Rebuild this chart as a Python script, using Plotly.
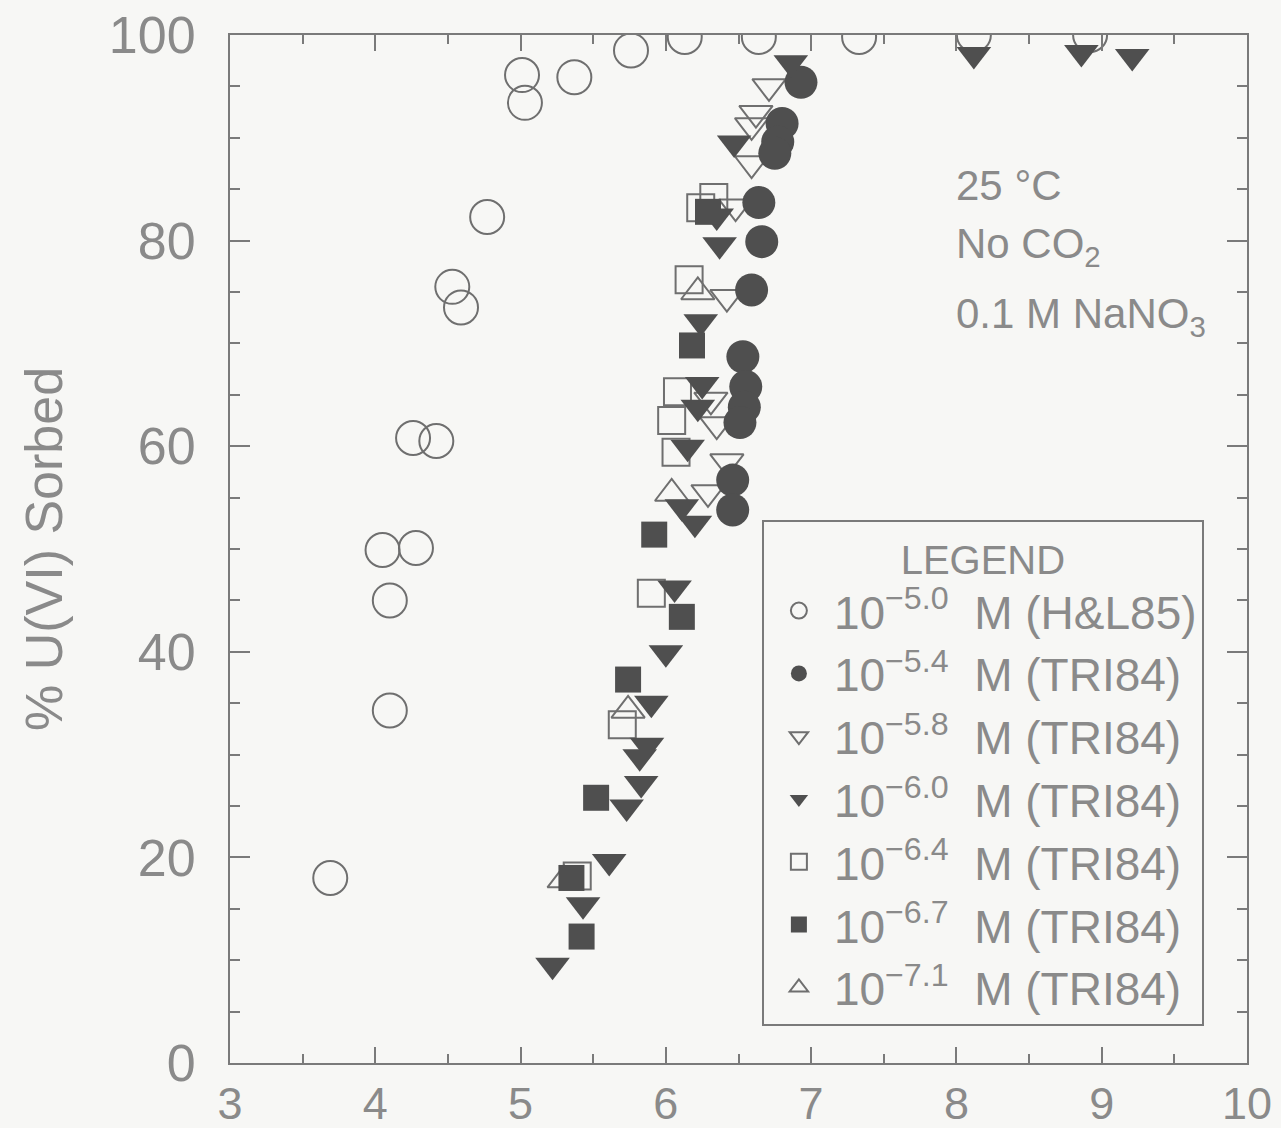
import plotly.graph_objects as go

# ---- data (pH, % U(VI) sorbed) ----
hl85_ph = [3.69, 4.10, 4.10, 4.05, 4.28, 4.26, 4.42, 4.53, 4.59, 4.77, 5.01, 5.03, 5.37, 5.76, 6.13, 6.64, 7.33, 8.12, 8.92]
hl85_y = [18.0, 34.3, 45.0, 49.9, 50.1, 60.8, 60.5, 75.5, 73.5, 82.3, 96.1, 93.4, 95.9, 98.5, 99.8, 99.8, 99.8, 100.0, 100.0]

m54_ph = [6.93, 6.80, 6.77, 6.75, 6.64, 6.66, 6.59, 6.53, 6.55, 6.54, 6.51, 6.46, 6.46]
m54_y = [95.4, 91.4, 89.6, 88.5, 83.7, 79.9, 75.2, 68.7, 65.8, 63.8, 62.3, 56.7, 53.8]

m58_ph = [6.71, 6.62, 6.59, 6.59, 6.48, 6.42, 6.31, 6.35, 6.42, 6.29]
m58_y = [95.0, 92.4, 91.2, 87.5, 83.3, 74.5, 64.5, 62.1, 58.5, 55.5]

m60_ph = [6.86, 8.12, 8.86, 9.21, 6.47, 6.35, 6.37, 6.24, 6.25, 6.22, 6.15, 6.11, 6.20,
          6.06, 6.00, 5.90, 5.87, 5.82, 5.83, 5.73, 5.61, 5.43, 5.22]
m60_y = [97.3, 98.1, 98.3, 97.9, 89.5, 82.4, 79.6, 72.1, 66.0, 63.8, 59.9, 54.1, 52.5,
         46.2, 39.9, 35.0, 30.9, 29.8, 27.2, 24.9, 19.6, 15.4, 9.5]

m64_ph = [6.24, 6.33, 6.16, 6.08, 6.04, 6.07, 5.90, 5.70, 5.39]
m64_y = [83.2, 84.2, 76.2, 65.3, 62.5, 59.4, 45.7, 32.9, 18.2]

m67_ph = [6.29, 6.18, 5.92, 6.11, 5.74, 5.52, 5.35, 5.42]
m67_y = [82.8, 69.8, 51.4, 43.4, 37.3, 25.8, 18.0, 12.3]

m71_ph = [6.22, 6.04, 5.74, 5.30]
m71_y = [75.0, 55.4, 34.3, 17.8]

x_ticks = [3, 4, 5, 6, 7, 8, 9, 10]
y_ticks = [0, 20, 40, 60, 80, 100]

GRAY = "#8a8a8a"
DARK = "#4f4f4f"
OPEN = "#6f6f6f"
AX = "#7a7a7a"
FONT = "Liberation Sans"

fig = go.Figure()

def add(xs, ys, name, symbol, size, color, rank, lw=2):
    fig.add_trace(go.Scatter(
        x=xs, y=ys, mode="markers", name=name, legendrank=rank,
        marker=dict(symbol=symbol, size=size, color=color,
                    line=dict(width=lw, color=color)),
    ))

# open symbols drawn first, filled ones on top
add(hl85_ph, hl85_y, "10<sup>−5.0</sup>  M (H&L85)", "circle-open", 34, OPEN, 1)
add(m58_ph, m58_y, "10<sup>−5.8</sup>  M (TRI84)", "triangle-down-open", 29, OPEN, 3)
add(m64_ph, m64_y, "10<sup>−6.4</sup>  M (TRI84)", "square-open", 27, OPEN, 5)
add(m71_ph, m71_y, "10<sup>−7.1</sup>  M (TRI84)", "triangle-up-open", 29, OPEN, 7)
add(m54_ph, m54_y, "10<sup>−5.4</sup>  M (TRI84)", "circle", 33, DARK, 2, 0)
add(m60_ph, m60_y, "10<sup>−6.0</sup>  M (TRI84)", "triangle-down", 30, DARK, 4, 0)
add(m67_ph, m67_y, "10<sup>−6.7</sup>  M (TRI84)", "square", 26, DARK, 6, 0)

axis_common = dict(
    showline=True, linecolor=AX, linewidth=2, mirror="ticks",
    ticks="inside", tickcolor=AX, tickwidth=2,
    showgrid=False, zeroline=False, automargin=False,
)

fig.update_xaxes(
    range=[3, 10], tickvals=x_ticks, ticktext=[str(v) for v in x_ticks],
    ticklen=16, ticklabelstandoff=0,
    tickfont=dict(family=FONT, size=45, color=GRAY),
    minor=dict(dtick=0.5, ticks="inside", ticklen=9, tickcolor=AX, tickwidth=2),
    **axis_common,
)
fig.update_yaxes(
    range=[0, 100], tickvals=y_ticks, ticktext=[str(v) for v in y_ticks],
    ticklen=20, ticklabelstandoff=22,
    tickfont=dict(family=FONT, size=52, color=GRAY),
    minor=dict(dtick=5, ticks="inside", ticklen=10, tickcolor=AX, tickwidth=2),
    title=dict(text="% U(VI) Sorbed", font=dict(family=FONT, size=52, color=GRAY), standoff=30),
    **axis_common,
)

for txt, yy in [("25 °C", 85.4), ("No CO<sub>2</sub>", 79.4), ("0.1 M NaNO<sub>3</sub>", 72.6)]:
    fig.add_annotation(x=7.98, y=yy, xref="x", yref="y", text=txt, showarrow=False,
                       xanchor="left", yanchor="middle",
                       font=dict(family=FONT, size=42, color=GRAY))

fig.update_layout(
    width=1281, height=1128,
    margin=dict(l=230, r=34, t=35, b=65),
    paper_bgcolor="#f7f7f5", plot_bgcolor="#f7f7f5",
    showlegend=True,
    legend=dict(
        x=0.523, y=0.528, xanchor="left", yanchor="top",
        bgcolor="rgba(0,0,0,0)", bordercolor=AX, borderwidth=2,
        font=dict(family=FONT, size=46, color=GRAY),
        title=dict(text="LEGEND", side="top center", font=dict(family=FONT, size=40, color=GRAY)),
        itemsizing="trace", itemwidth=60, tracegroupgap=0,
    ),
)

# remove the browser's default 8 px body margin so the figure starts at the page corner
fig.write_html("out.html", config={"displayModeBar": False},
               post_script="document.body.style.margin='0';")
